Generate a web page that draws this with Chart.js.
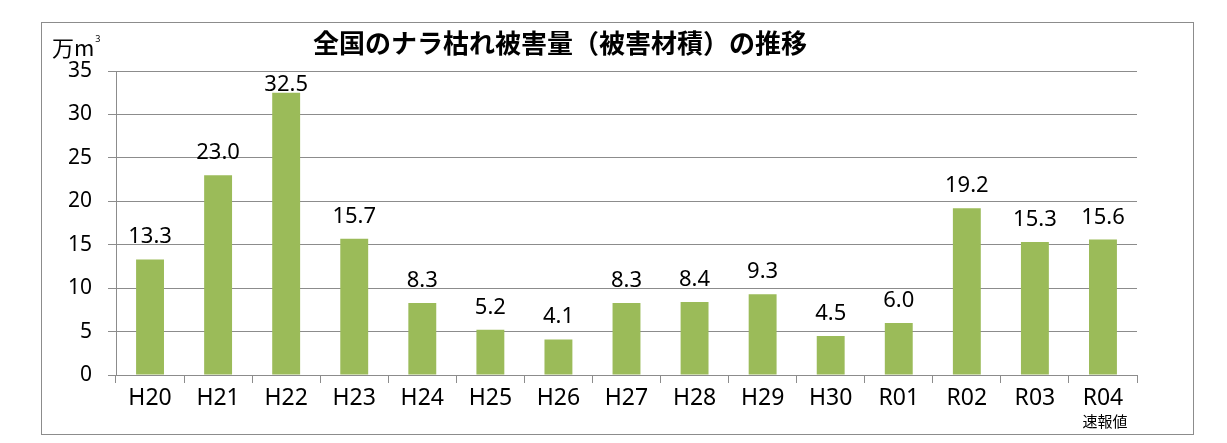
<!DOCTYPE html>
<html>
<head>
<meta charset="utf-8">
<script src="https://cdn.jsdelivr.net/npm/chart.js@4"></script>
<style>
  html, body { margin: 0; padding: 0; background: #fff; }
  #wrap { width: 1227px; height: 443px; position: relative; }
</style>
</head>
<body>
<div id="wrap"><canvas id="naraChart"></canvas></div>
<script>
const categories = ['H20', 'H21', 'H22', 'H23', 'H24', 'H25', 'H26', 'H27', 'H28', 'H29', 'H30', 'R01', 'R02', 'R03', 'R04'];
const damageVolume = [13.3, 23.0, 32.5, 15.7, 8.3, 5.2, 4.1, 8.3, 8.4, 9.3, 4.5, 6.0, 19.2, 15.3, 15.6];
const yTicks = [0, 5, 10, 15, 20, 25, 30, 35];
const chartTitle = '全国のナラ枯れ被害量（被害材積）の推移';
const unitLabel = '万m';
const provisionalNote = '速報値';

const BASE_FONT = '"Noto Sans", "Noto Sans CJK JP", sans-serif';
const CJK_FONT = '"Noto Sans CJK JP", "Noto Sans", sans-serif';

// draws frame, title, unit, value labels and the note under the last category
const decorations = {
    id: 'decorations',
    beforeDraw(chart) {
        const ctx = chart.ctx;
        ctx.save();
        ctx.fillStyle = '#fff';
        ctx.fillRect(0, 0, chart.width, chart.height);
        ctx.strokeStyle = '#8c8c8c';
        ctx.lineWidth = 1;
        ctx.strokeRect(41.5, 22.5, 1152, 412);
        ctx.restore();
    },
    afterDatasetsDraw(chart) {
        const ctx = chart.ctx;
        const area = chart.chartArea;
        ctx.save();

        // title
        ctx.fillStyle = '#000';
        ctx.font = 'bold 26px ' + CJK_FONT;
        ctx.textAlign = 'center';
        ctx.textBaseline = 'middle';
        ctx.fillText(chartTitle, 560, 43);

        // unit
        ctx.font = '22px ' + CJK_FONT;
        ctx.textAlign = 'left';
        ctx.textBaseline = 'alphabetic';
        ctx.fillText(unitLabel, 52, 56);
        const w = ctx.measureText(unitLabel).width;
        ctx.font = '9px ' + BASE_FONT;
        ctx.fillText('3', 52 + w + 1, 42);

        // value labels
        const meta = chart.getDatasetMeta(0);
        ctx.font = '22px ' + BASE_FONT;
        ctx.textAlign = 'center';
        ctx.textBaseline = 'alphabetic';
        meta.data.forEach((bar, i) => {
            let y = bar.y - 16;
            if (y - 17 < area.top + 3) y = area.top + 20;
            ctx.fillText(damageVolume[i].toFixed(1), bar.x, y);
        });

        // provisional note under R04
        const lastX = chart.scales.x.getPixelForValue(categories.length - 1);
        ctx.font = '15px ' + CJK_FONT;
        ctx.textBaseline = 'middle';
        ctx.fillText(provisionalNote, lastX + 2, 421);
        ctx.restore();
    }
};

const ctx = document.getElementById('naraChart').getContext('2d');
new Chart(ctx, {
    type: 'bar',
    data: {
        labels: categories,
        datasets: [{
            label: '被害材積',
            data: damageVolume,
            backgroundColor: '#9bbb59',
            borderWidth: 0,
            barPercentage: 0.41,
            categoryPercentage: 1.0
        }]
    },
    options: {
        responsive: true,
        maintainAspectRatio: false,
        animation: false,
        layout: {
            padding: { left: 41, right: 90, top: 71, bottom: 28 }
        },
        plugins: {
            legend: { display: false },
            title: { display: false },
            tooltip: { enabled: false }
        },
        scales: {
            x: {
                grid: {
                    display: true,
                    offset: true,
                    drawOnChartArea: false,
                    drawTicks: true,
                    tickLength: 8,
                    color: '#8c8c8c'
                },
                border: { display: true, color: '#8c8c8c' },
                ticks: {
                    color: '#000',
                    font: { family: BASE_FONT, size: 23 },
                    padding: 2,
                    maxRotation: 0
                },
                afterFit(scale) { scale.height = 40; }
            },
            y: {
                min: 0,
                max: 35,
                afterBuildTicks(scale) {
                    scale.ticks = yTicks.map(v => ({ value: v }));
                },
                grid: {
                    color: '#8c8c8c',
                    tickLength: 8
                },
                border: { display: true, color: '#8c8c8c' },
                ticks: {
                    color: '#000',
                    font: { family: BASE_FONT, size: 21 },
                    padding: 16
                },
                afterFit(scale) { scale.width = 75; }
            }
        }
    },
    plugins: [decorations]
});
</script>
</body>
</html>
